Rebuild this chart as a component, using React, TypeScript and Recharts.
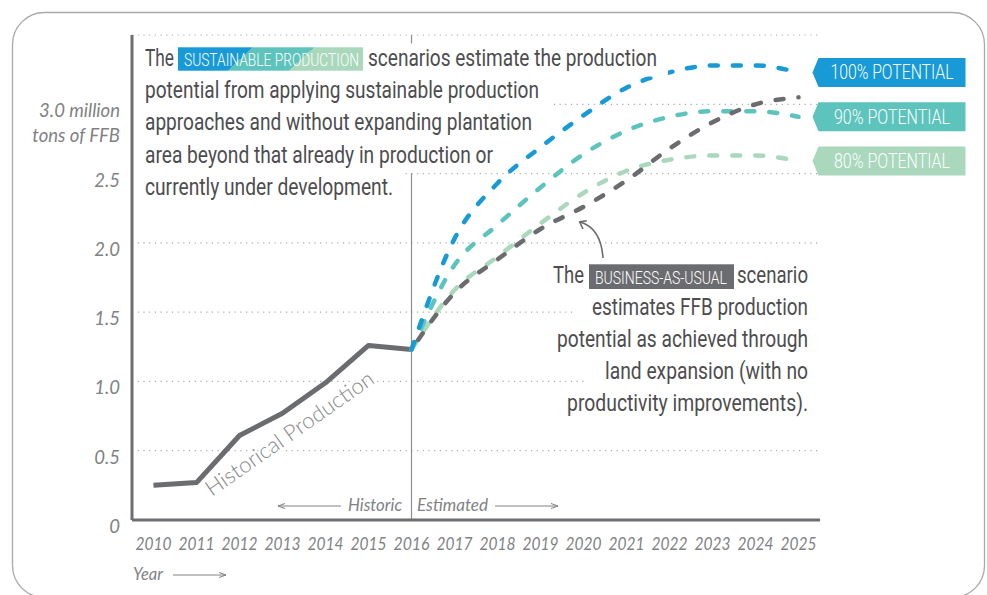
import React from 'react';
import { LineChart, Line, XAxis, YAxis, CartesianGrid, ReferenceLine } from 'recharts';

const years = ['2010', '2011', '2012', '2013', '2014', '2015', '2016', '2017', '2018', '2019', '2020', '2021', '2022', '2023', '2024', '2025'];
const historical = [0.25, 0.27, 0.61, 0.77, 0.99, 1.26, 1.23, null, null, null, null, null, null, null, null, null];
const businessAsUsual = [null, null, null, null, null, null, 1.23, 1.64, 1.88, 2.1, 2.26, 2.45, 2.68, 2.87, 3.0, 3.05];
const potential100 = [null, null, null, null, null, null, 1.23, 2.03, 2.43, 2.69, 2.92, 3.12, 3.23, 3.28, 3.28, 3.23];
const potential90 = [null, null, null, null, null, null, 1.23, 1.84, 2.13, 2.4, 2.64, 2.81, 2.91, 2.95, 2.95, 2.91];
const potential80 = [null, null, null, null, null, null, 1.23, 1.66, 1.9, 2.14, 2.36, 2.52, 2.6, 2.63, 2.63, 2.59];
const yTicks = [0, 0.5, 1, 1.5, 2, 2.5, 3];
const yTickLabels = ['0', '0.5', '1.0', '1.5', '2.0', '2.5', '3.0 million'];
const yUnitLabel = 'tons of FFB';
const tagLabels = ['100% POTENTIAL', '90% POTENTIAL', '80% POTENTIAL'];

const data = years.map((year, i) => ({
  year,
  historical: historical[i],
  bau: businessAsUsual[i],
  p100: potential100[i],
  p90: potential90[i],
  p80: potential80[i],
}));

const BLUE = '#179ad6';
const TEAL = '#5cc4bc';
const GREEN = '#a9d8bd';
const DARK = '#6b6c6f';
const FRAME = '#6d6e71';
const TEXT = '#4d4d4f';
const LIGHT = '#808285';
const condensed = "Roboto, 'Noto Sans', sans-serif";
const humanist = "Lato, 'Open Sans', sans-serif";

const YTick = (props: any) => {
  const { x, y, payload } = props;
  const idx = yTicks.indexOf(payload.value);
  const label = idx >= 0 ? yTickLabels[idx] : String(payload.value);
  return (
    <g>
      <text x={x} y={y + 6} textAnchor="end" dominantBaseline="central" fill={LIGHT} fontSize={18.5} fontStyle="italic" fontFamily={humanist} fontWeight={400}>
        {label}
      </text>
      {payload.value === 3 && (
        <text x={x} y={y + 31} textAnchor="end" dominantBaseline="central" fill={LIGHT} fontSize={18.5} fontStyle="italic" fontFamily={humanist} fontWeight={400}>
          {yUnitLabel}
        </text>
      )}
    </g>
  );
};

const XTick = (props: any) => {
  const { x, y, payload } = props;
  return (
    <text x={x} y={y + 30} textAnchor="middle" fill={LIGHT} fontSize={17.5} fontStyle="italic" fontFamily={humanist} fontWeight={400} textLength={36} lengthAdjust="spacingAndGlyphs">
      {payload.value}
    </text>
  );
};

const endTag = (text: string, color: string, textWidth: number) => (props: any) => {
  const { cx, cy, index } = props;
  if (index !== years.length - 1 || cx == null || cy == null) return <g key={`d-${index}`} />;
  const l = cx + 14;
  const n = 6;
  const r = cx + 167;
  const h = 14.5;
  return (
    <g key={`tag-${index}`}>
      <polygon points={`${l},${cy} ${l + n},${cy - h} ${r},${cy - h} ${r},${cy + h} ${l + n},${cy + h}`} fill={color} />
      <text x={(l + n + r) / 2} y={cy + 7} textAnchor="middle" fill="#ffffff" fontSize={20} fontWeight={300} fontFamily={condensed} textLength={textWidth} lengthAdjust="spacingAndGlyphs">
        {text}
      </text>
    </g>
  );
};

const dashProps = {
  type: 'monotone' as const,
  strokeWidth: 4.5,
  strokeDasharray: '8 15',
  strokeLinecap: 'round' as const,
  activeDot: false,
  isAnimationActive: false,
};

const axisLineStyle = { stroke: FRAME, strokeWidth: 3 };

const Line1 = ({ b, x, w, text, anchor = 'start' }: any) => (
  <text x={x} y={b} fill={TEXT} fontSize={24} fontFamily={condensed} fontWeight={400} textLength={w} lengthAdjust="spacingAndGlyphs" textAnchor={anchor}>
    {text}
  </text>
);

export default function App() {
  const lb = [66, 98.2, 130.4, 162.6, 194.8];
  const rb = [283.3, 315.2, 347, 378.9, 410.7];
  return (
    <div style={{ position: 'absolute', left: 0, top: 0, width: 987, height: 595, background: '#ffffff', overflow: 'hidden' }}>
      <LineChart width={987} height={595} data={data} margin={{ top: 35, right: 167, bottom: 0, left: 0 }}>
        <CartesianGrid vertical={false} stroke="#a7a9ac" strokeDasharray="1.2 4.5" strokeWidth={1.2} />
        <XAxis dataKey="year" height={75} padding={{ left: 21.5, right: 21.5 }} axisLine={axisLineStyle} tickLine={false} tickSize={0} tickMargin={0} interval={0} tick={<XTick />} />
        <XAxis xAxisId="top" dataKey="year" orientation="top" height={0} padding={{ left: 21.5, right: 21.5 }} axisLine={axisLineStyle} tickLine={false} tick={false} />
        <YAxis width={132} type="number" domain={[0, 3.5]} ticks={yTicks} axisLine={axisLineStyle} tickLine={false} tickSize={0} tickMargin={12} tick={<YTick />} />
        <YAxis yAxisId="right" orientation="right" width={0} type="number" domain={[0, 3.5]} axisLine={axisLineStyle} tickLine={false} tick={false} />
        <ReferenceLine x="2016" stroke="#8d8e91" strokeWidth={1.2} />
        <Line dataKey="historical" type="linear" stroke={DARK} strokeWidth={5} strokeLinejoin="round" dot={false} activeDot={false} isAnimationActive={false} />
        <Line dataKey="p80" stroke={GREEN} {...dashProps} dot={endTag(tagLabels[2], GREEN, 116)} />
        <Line dataKey="p90" stroke={TEAL} {...dashProps} dot={endTag(tagLabels[1], TEAL, 116)} />
        <Line dataKey="p100" stroke={BLUE} {...dashProps} dot={endTag(tagLabels[0], BLUE, 123)} />
        <Line dataKey="bau" stroke={DARK} {...dashProps} strokeDashoffset={11.5} dot={false} />
      </LineChart>

      <svg width={987} height={595} style={{ position: 'absolute', left: 0, top: 0, pointerEvents: 'none' }}>
        <defs>
          <linearGradient id="sustGrad" gradientUnits="userSpaceOnUse" x1={178} y1={47} x2={275} y2={152}>
            <stop offset="0" stopColor={BLUE} />
            <stop offset="0.356" stopColor={BLUE} />
            <stop offset="0.356" stopColor={TEAL} />
            <stop offset="0.647" stopColor={TEAL} />
            <stop offset="0.647" stopColor={GREEN} />
            <stop offset="1" stopColor={GREEN} />
          </linearGradient>
          <marker id="arrowL" markerWidth="8" markerHeight="6" refX="0" refY="3" orient="auto" markerUnits="userSpaceOnUse">
            <path d="M7,0.5 L0,3 L7,5.5" fill="none" stroke={LIGHT} strokeWidth={1} />
          </marker>
        </defs>

        <rect x={12.5} y={12.5} width={972} height={585} rx={32} fill="none" stroke="#a7a9ac" strokeWidth={1.3} />

        <rect x={134} y={43.5} width={534} height={33} fill="#fff" />
        <rect x={134} y={75.7} width={416} height={33} fill="#fff" />
        <rect x={134} y={107.9} width={409} height={33} fill="#fff" />
        <rect x={134} y={140.1} width={369} height={33} fill="#fff" />
        <rect x={134} y={172.3} width={270} height={33} fill="#fff" />

        <Line1 b={lb[0]} x={145} w={29} text="The" />
        <rect x={178} y={47.3} width={185} height={23.4} fill="url(#sustGrad)" />
        <text x={184} y={66} fill="#ffffff" fontSize={18} fontWeight={300} fontFamily={condensed} textLength={175} lengthAdjust="spacingAndGlyphs">SUSTAINABLE PRODUCTION</text>
        <Line1 b={lb[0]} x={368} w={289} text="scenarios estimate the production" />
        <Line1 b={lb[1]} x={145} w={394} text="potential from applying sustainable production" />
        <Line1 b={lb[2]} x={145} w={387} text="approaches and without expanding plantation" />
        <Line1 b={lb[3]} x={145} w={348} text="area beyond that already in production or" />
        <Line1 b={lb[4]} x={145} w={248} text="currently under development." />

        <rect x={540} y={260.8} width={278} height={33} fill="#fff" />
        <rect x={576} y={292.7} width={242} height={33} fill="#fff" />
        <rect x={542} y={324.5} width={276} height={33} fill="#fff" />
        <rect x={587} y={356.4} width={231} height={33} fill="#fff" />
        <rect x={551} y={388.2} width={267} height={33} fill="#fff" />

        <Line1 b={rb[0]} x={553} w={31} text="The" />
        <rect x={589} y={264.3} width={145} height={24.7} fill={DARK} />
        <text x={595} y={283.5} fill="#ffffff" fontSize={18} fontWeight={300} fontFamily={condensed} textLength={132} lengthAdjust="spacingAndGlyphs">BUSINESS-AS-USUAL</text>
        <Line1 b={rb[0]} x={808} w={71} text="scenario" anchor="end" />
        <Line1 b={rb[1]} x={808} w={216} text="estimates FFB production" anchor="end" />
        <Line1 b={rb[2]} x={808} w={251} text="potential as achieved through" anchor="end" />
        <Line1 b={rb[3]} x={808} w={203} text="land expansion (with no" anchor="end" />
        <Line1 b={rb[4]} x={808} w={241} text="productivity improvements)." anchor="end" />

        <path d="M603,258 Q601,228 580,222" fill="none" stroke={DARK} strokeWidth={1.6} />
        <path d="M586.8,220.7 L579.6,221.9 L583,229" fill="none" stroke={DARK} strokeWidth={1.6} strokeLinejoin="round" />

        <text x={212} y={497} transform="rotate(-35 212 497)" fill="#88898c" fontSize={22} fontFamily={humanist} fontWeight={300} textLength={200} lengthAdjust="spacingAndGlyphs" stroke="#ffffff" strokeWidth={4} paintOrder="stroke" strokeLinejoin="round">
          Historical Production
        </text>

        <line x1={278} y1={506} x2={341} y2={506} stroke={LIGHT} strokeWidth={1} markerStart="url(#arrowL)" />
        <text x={402} y={510.5} textAnchor="end" fill={LIGHT} fontSize={16.5} fontStyle="italic" fontFamily={humanist} fontWeight={400} textLength={54} lengthAdjust="spacingAndGlyphs">Historic</text>
        <text x={417} y={510.5} fill={LIGHT} fontSize={16.5} fontStyle="italic" fontFamily={humanist} fontWeight={400} textLength={71} lengthAdjust="spacingAndGlyphs">Estimated</text>
        <line x1={558} y1={506} x2={495} y2={506} stroke={LIGHT} strokeWidth={1} markerStart="url(#arrowL)" />

        <text x={133} y={580} fill={LIGHT} fontSize={16.5} fontStyle="italic" fontFamily={humanist} fontWeight={400}>Year</text>
        <line x1={226} y1={575} x2={173} y2={575} stroke={LIGHT} strokeWidth={1} markerStart="url(#arrowL)" />
      </svg>
    </div>
  );
}
